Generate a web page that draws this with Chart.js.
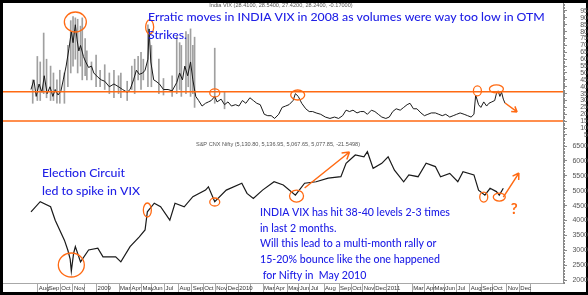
<!DOCTYPE html>
<html>
<head>
<meta charset="utf-8">
<script src="https://cdn.jsdelivr.net/npm/chart.js@4.4.0/dist/chart.umd.min.js"></script>
<style>
  html, body { margin: 0; padding: 0; background: #000; }
  #wrap { position: relative; width: 588px; height: 295px; }
</style>
</head>
<body>
<div id="wrap"><canvas id="chart"></canvas></div>
<script>
// x axis unit = trading day counted from the first bar (mid Jul 2008)
const monthLabels = ['Aug','Sep','Oct','Nov','','2009','','Mar','Apr','May','Jun','Jul','Aug','Sep','Oct','Nov','Dec',
  '2010','','Mar','Apr','May','Jun','Jul','Aug','Sep','Oct','Nov','Dec','2011','','Mar','Apr','May','Jun','Jul','Aug','Sep','Oct','Nov','Dec'];
const monthStart = [11,28,50,72,92,113,133,152,172,191,209,231,255,278,298,319,339,359,381,402,422,444,464,483,508,534,555,575,595,616,636,661,683,698,717,738,761,781,800,825,847];
const axisEnd = 866;

// India VIX close
const vixDay = [0,5,9,14,19,23,28,33,38,42,47,52,56,61,66,70,73,77,80,83,86,91,95,100,105,109,116,122,128,136,144,152,159,167,172,178,183,188,194,198,203,205,208,213,217,223,230,238,245,253,258,263,267,272,277,281,286,291,297,303,308,313,319,323,330,336,342,348,355,361,367,373,380,386,392,398,405,411,417,423,430,436,442,448,455,459,464,470,477,483,489,495,503,511,519,527,534,541,547,553,559,566,572,578,584,591,597,603,609,616,622,628,634,641,647,653,658,664,670,677,683,689,695,702,708,714,720,727,733,739,745,752,758,764,769,772,777,781,786,791,795,800,805,808,811,814,817,820,823];
const vixClose = [38,45,33,42,36,48,35,40,33,38,34,37,45,55,68,80,72,85,74,66,70,62,58,54,55,50,47,45,44,40,42,40,38,36,38,45,52,49,50,52,60,82,58,45,44,42,38,38,37,43,50,45,55,48,58,45,33,30,26,28,29,30,33,29,31,27,29,26,27,26,30,28,32,30,28,27,20,19,19,17,20,25,26,27,30,35,33,28,24,22,22,21,20,18,17,18,17,19,23,22,23,21,22,22,20,23,22,20,18,17,18,22,24,23,25,27,28,24,24,21,19,20,21,21,20,19,20,18,19,20,21,20,19,18,20,34,27,25,29,26,28,29,30,35,37,33,36,31,28];

// India VIX intraday spikes (low, high)
const spikeDay  = [3,11,16,22,27,34,39,45,50,58,64,69,73,77,81,86,89,94,97,105,113,120,128,136,144,152,156,167,175,180,186,191,195,203,209,222,230,245,253,258,261,269,273,277,281,284,319,336];
const spikeLow  = [28,30,30,35,32,30,30,28,28,28,40,50,55,60,50,55,45,48,45,45,40,40,38,35,32,35,32,30,38,35,45,38,45,40,40,35,34,33,35,38,33,35,40,33,35,25,28,24];
const spikeHigh = [45,62,58,79,60,55,50,45,52,50,70,88,91,90,89,84,90,75,66,58,63,52,56,50,52,48,50,44,55,60,62,65,60,85,70,60,46,48,77,72,70,80,78,82,70,76,68,36];

// S&P CNX Nifty close
const niftyDay = [0,16,34,42,58,64,68,70,74,77,86,100,116,125,147,156,172,188,198,202,214,225,241,250,266,281,303,308,319,339,366,375,386,402,422,438,459,475,495,516,538,547,563,578,584,594,609,620,631,647,656,672,686,702,711,727,741,750,769,777,788,797,808,813,820];
const niftyClose = [4290,4630,4460,4010,3340,3000,2700,2300,2900,3120,2610,3010,3070,2780,2780,2610,3120,3450,3680,4290,4580,4460,4010,4580,4460,4800,5020,5130,4630,5020,5250,4910,4740,5020,5300,5190,4850,5250,5300,5420,5470,5920,6200,6140,6310,5750,5920,6140,5690,5300,5530,5470,5920,5810,5470,5580,5300,5640,5530,5020,4850,5080,4970,4850,5080];

const vixTicks = [5,10,15,20,25,30,35,40,45,50,55,60,65,70,75,80,85,90,95];
const niftyTicks = [2000,2500,3000,3500,4000,4500,5000,5500,6000,6500];
const vixBands = [36.3, 15.2];

const ORANGE = '#ff6a13';
const BLUE = '#2020e6';
const AXIS = '#8a8a8a';

const vixCircles = [[77,87,11,10],[206,83.4,4,7],[319,35.5,5,4],[463,34,7,5],[775,37,4,5],[808,38.4,7,4]];
const niftyCircles = [[70,2504,13,12],[202,4351,4,7],[319,4620,5,4],[461,4821,7,6],[786,4787,4,5],[813,4787,6,4]];

function pts(days, vals) { return days.map((d, i) => ({ x: d, y: vals[i] })); }

function fitFont(ctx, text, weight, family, width) {
  ctx.font = weight + ' 10px ' + family;
  return 10 * width / ctx.measureText(text).width;
}

function arrow(ctx, x1, y1, x2, y2, head) {
  ctx.beginPath();
  ctx.moveTo(x1, y1);
  ctx.lineTo(x2, y2);
  const a = Math.atan2(y2 - y1, x2 - x1);
  ctx.moveTo(x2, y2);
  ctx.lineTo(x2 - head * Math.cos(a - 0.55), y2 - head * Math.sin(a - 0.55));
  ctx.moveTo(x2, y2);
  ctx.lineTo(x2 - head * Math.cos(a + 0.55), y2 - head * Math.sin(a + 0.55));
  ctx.stroke();
}

const frame = {
  id: 'frame',
  beforeDraw(chart) {
    const ctx = chart.ctx;
    ctx.save();
    ctx.fillStyle = '#000';
    ctx.fillRect(0, 0, chart.width, chart.height);
    ctx.fillStyle = '#fff';
    ctx.fillRect(3, 3, chart.width - 5, chart.height - 6);
    ctx.restore();
  },
  afterDraw(chart) {
    const ctx = chart.ctx, x = chart.scales.x, area = chart.chartArea;
    ctx.save();
    // minor ticks on the right axes
    ctx.strokeStyle = AXIS;
    ctx.lineWidth = 1;
    [['vix', 1], ['nifty', 50]].forEach(([id, step]) => {
      const s = chart.scales[id];
      ctx.beginPath();
      for (let v = Math.ceil(s.min / step) * step; v <= s.max; v += step) {
        const y = Math.round(s.getPixelForValue(v)) + 0.5;
        ctx.moveTo(s.left, y);
        ctx.lineTo(s.left + 2, y);
      }
      ctx.stroke();
    });
    // month strip
    const y0 = area.bottom, y1 = chart.height - 3;
    ctx.strokeStyle = '#a8a8a8';
    ctx.beginPath();
    ctx.moveTo(3, y0 + 0.5);
    ctx.lineTo(area.right, y0 + 0.5);
    monthStart.forEach(d => {
      const px = Math.round(x.getPixelForValue(d)) + 0.5;
      ctx.moveTo(px, y0);
      ctx.lineTo(px, y1);
    });
    const endPx = Math.round(x.getPixelForValue(axisEnd)) + 0.5;
    ctx.moveTo(endPx, y0);
    ctx.lineTo(endPx, y1);
    ctx.stroke();
    ctx.fillStyle = '#333';
    ctx.font = '6px "Liberation Sans"';
    monthLabels.forEach((t, i) => {
      if (t) ctx.fillText(t, x.getPixelForValue(monthStart[i]) + 1.5, y1 - 2);
    });
    // panel captions
    ctx.fillStyle = '#555';
    ctx.textAlign = 'center';
    ctx.font = '5.6px "Liberation Sans"';
    ctx.fillText('India VIX (28.4100, 28.5400, 27.4200, 28.2400, -0.17000)', 281, 7);
    ctx.fillText('S&P CNX Nifty (5,130.80, 5,136.95, 5,067.65, 5,077.85, -21.5498)', 278, 146);
    ctx.restore();
  }
};

const annotate = {
  id: 'annotate',
  afterDatasetsDraw(chart) {
    const ctx = chart.ctx, x = chart.scales.x, v = chart.scales.vix, n = chart.scales.nifty;
    const area = chart.chartArea;
    ctx.save();
    ctx.strokeStyle = ORANGE;
    ctx.lineWidth = 1.5;
    ctx.beginPath();
    vixBands.forEach(b => {
      const y = v.getPixelForValue(b);
      ctx.moveTo(area.left, y);
      ctx.lineTo(area.right, y);
    });
    ctx.stroke();

    ctx.lineWidth = 1.3;
    [[vixCircles, v], [niftyCircles, n]].forEach(([list, s]) => {
      list.forEach(([d, val, rx, ry]) => {
        ctx.beginPath();
        ctx.ellipse(x.getPixelForValue(d), s.getPixelForValue(val), rx, ry, 0, 0, Math.PI * 2);
        ctx.stroke();
      });
    });

    ctx.lineWidth = 1.5;
    arrow(ctx, x.getPixelForValue(823), v.getPixelForValue(28.2), x.getPixelForValue(844), v.getPixelForValue(21.7), 6);
    arrow(ctx, x.getPixelForValue(475), n.getPixelForValue(5090), x.getPixelForValue(553), n.getPixelForValue(6299), 8);
    arrow(ctx, x.getPixelForValue(820), n.getPixelForValue(4787), x.getPixelForValue(847), n.getPixelForValue(5593), 7);

    ctx.fillStyle = ORANGE;
    ctx.font = 'bold 15px "Lato"';
    ctx.textAlign = 'center';
    ctx.fillText('?', x.getPixelForValue(839), n.getPixelForValue(4418) + 6);

    // comments
    ctx.textAlign = 'left';
    ctx.fillStyle = BLUE;
    const fam = '"Lato"';
    let fs = fitFont(ctx, 'Erratic moves in INDIA VIX in 2008 as volumes were way too low in OTM', '500', fam, 397);
    ctx.font = '500 ' + fs + 'px ' + fam;
    ctx.fillText('Erratic moves in INDIA VIX in 2008 as volumes were way too low in OTM', 148, 21);
    ctx.fillText('Strikes.', 148, 39);

    fs = fitFont(ctx, 'led to spike in VIX', '500', fam, 98);
    ctx.font = '500 ' + fs + 'px ' + fam;
    ctx.fillText('Election Circuit', 42, 177);
    ctx.fillText('led to spike in VIX', 42, 195);

    fs = fitFont(ctx, 'INDIA VIX has hit 38-40 levels 2-3 times', '500', fam, 190);
    ctx.font = '500 ' + fs + 'px ' + fam;
    const block = ['INDIA VIX has hit 38-40 levels 2-3 times', 'in last 2 months.',
      'Will this lead to a multi-month rally or', '15-20% bounce like the one happened', ' for Nifty in  May 2010'];
    block.forEach((t, i) => ctx.fillText(t, 260, 216 + i * 15.7));
    ctx.restore();
  }
};

function yAxis(stackWeight, min, max, tickValues, pad) {
  return {
    type: 'linear',
    position: 'right',
    stack: 'panels',
    stackWeight: stackWeight,
    min: min,
    max: max,
    afterBuildTicks: s => { s.ticks = tickValues.map(t => ({ value: t })); },
    afterFit: s => { s.width = 25; s.paddingTop = 0; s.paddingBottom = 0; },
    grid: { drawOnChartArea: false, drawTicks: true, tickLength: 4, color: AXIS },
    border: { display: true, color: AXIS, width: 1 },
    ticks: {
      font: { size: 7, family: '"Liberation Sans"' },
      color: '#555',
      padding: pad,
      crossAlign: 'far',
      autoSkip: false,
      callback: val => String(val)
    }
  };
}

new Chart(document.getElementById('chart'), {
  data: {
    datasets: [
      {
        type: 'bar',
        data: spikeDay.map((d, i) => ({ x: d, y: [spikeLow[i], spikeHigh[i]] })),
        yAxisID: 'vix',
        backgroundColor: '#a0a0a0',
        barThickness: 1,
        grouped: false,
        order: 3
      },
      {
        type: 'line',
        data: pts(vixDay, vixClose),
        yAxisID: 'vix',
        borderColor: '#1a1a1a',
        borderWidth: 1,
        pointRadius: 0,
        tension: 0,
        order: 1
      },
      {
        type: 'line',
        data: pts(niftyDay, niftyClose),
        yAxisID: 'nifty',
        borderColor: '#1a1a1a',
        borderWidth: 1.2,
        pointRadius: 0,
        tension: 0,
        order: 1
      }
    ]
  },
  options: {
    responsive: true,
    maintainAspectRatio: false,
    animation: false,
    layout: { padding: { left: 3, top: 3, right: 0, bottom: 12 } },
    plugins: { legend: { display: false }, tooltip: { enabled: false } },
    scales: {
      x: { type: 'linear', display: false, min: 0, max: 875 },
      vix: yAxis(135, 2.8, 100.8, vixTicks, 8),
      nifty: yAxis(145, 1900, 6770, niftyTicks, 0)
    }
  },
  plugins: [frame, annotate]
});
</script>
</body>
</html>
